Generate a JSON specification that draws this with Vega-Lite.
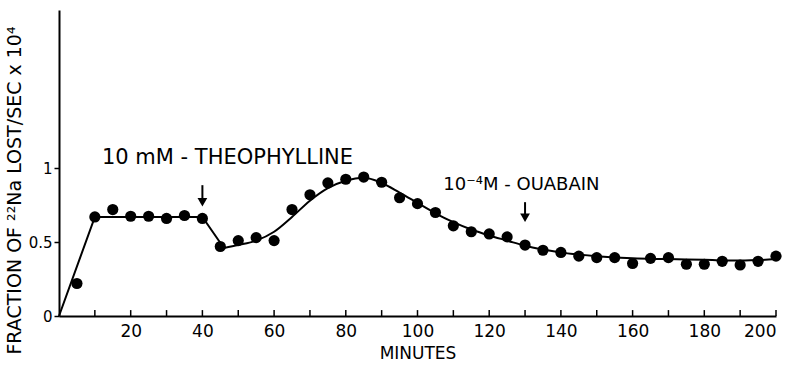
{
  "$schema": "https://vega.github.io/schema/vega-lite/v6.json",
  "width": 717,
  "height": 306,
  "autosize": "none",
  "padding": {"left": 59, "top": 10, "right": 20, "bottom": 58},
  "background": "white",
  "config": {
    "view": {"stroke": null},
    "font": "DejaVu Sans",
    "axis": {"grid": false, "domainColor": "black", "domainWidth": 2, "tickColor": "black", "tickWidth": 1.5, "labelColor": "black", "titleColor": "black", "labelFont": "DejaVu Sans", "titleFont": "DejaVu Sans", "titleFontWeight": "normal"}
  },
  "datasets": {
    "obs": [
      {"min": 5, "val": 0.22}, {"min": 10, "val": 0.67}, {"min": 15, "val": 0.72}, {"min": 20, "val": 0.675},
      {"min": 25, "val": 0.675}, {"min": 30, "val": 0.66}, {"min": 35, "val": 0.68}, {"min": 40, "val": 0.66},
      {"min": 45, "val": 0.47}, {"min": 50, "val": 0.51}, {"min": 55, "val": 0.53}, {"min": 60, "val": 0.51},
      {"min": 65, "val": 0.72}, {"min": 70, "val": 0.82}, {"min": 75, "val": 0.9}, {"min": 80, "val": 0.925},
      {"min": 85, "val": 0.94}, {"min": 90, "val": 0.905}, {"min": 95, "val": 0.8}, {"min": 100, "val": 0.76},
      {"min": 105, "val": 0.7}, {"min": 110, "val": 0.61}, {"min": 115, "val": 0.57}, {"min": 120, "val": 0.555},
      {"min": 125, "val": 0.535}, {"min": 130, "val": 0.48}, {"min": 135, "val": 0.445}, {"min": 140, "val": 0.43},
      {"min": 145, "val": 0.405}, {"min": 150, "val": 0.395}, {"min": 155, "val": 0.395}, {"min": 160, "val": 0.355},
      {"min": 165, "val": 0.39}, {"min": 170, "val": 0.395}, {"min": 175, "val": 0.35}, {"min": 180, "val": 0.35},
      {"min": 185, "val": 0.37}, {"min": 190, "val": 0.345}, {"min": 195, "val": 0.37}, {"min": 200, "val": 0.405}
    ],
    "fitA": [
      {"min": 0, "val": 0}, {"min": 10, "val": 0.67}, {"min": 40, "val": 0.67}, {"min": 46, "val": 0.46}
    ],
    "fitB": [
      {"min": 46, "val": 0.46}, {"min": 50, "val": 0.48}, {"min": 55, "val": 0.51}, {"min": 60, "val": 0.57},
      {"min": 65, "val": 0.67}, {"min": 70, "val": 0.78}, {"min": 75, "val": 0.865}, {"min": 80, "val": 0.915},
      {"min": 85, "val": 0.935}, {"min": 90, "val": 0.9}, {"min": 95, "val": 0.835}, {"min": 100, "val": 0.765},
      {"min": 105, "val": 0.695}, {"min": 110, "val": 0.635}, {"min": 115, "val": 0.585}, {"min": 120, "val": 0.545},
      {"min": 125, "val": 0.51}, {"min": 130, "val": 0.475}, {"min": 135, "val": 0.45}, {"min": 140, "val": 0.43},
      {"min": 150, "val": 0.405}, {"min": 160, "val": 0.39}, {"min": 170, "val": 0.385}, {"min": 180, "val": 0.38},
      {"min": 190, "val": 0.375}, {"min": 200, "val": 0.385}
    ],
    "ticks": [
      {"min": 10}, {"min": 20}, {"min": 30}, {"min": 40}, {"min": 50}, {"min": 60}, {"min": 70}, {"min": 80},
      {"min": 90}, {"min": 100}, {"min": 110}, {"min": 120}, {"min": 130}, {"min": 140}, {"min": 150},
      {"min": 160}, {"min": 170}, {"min": 180}, {"min": 190}, {"min": 200}
    ],
    "note1": [{"min": 47, "val": 1.07, "label": "10 mM - THEOPHYLLINE"}],
    "note2": [{"min": 129, "val": 0.885, "label": "10⁻⁴M - OUABAIN"}],
    "arrows": [
      {"min": 40, "top": 0.885, "tip": 0.745, "head": 0.77},
      {"min": 130, "top": 0.77, "tip": 0.64, "head": 0.665}
    ]
  },
  "layer": [
    {
      "data": {"name": "fitA"},
      "mark": {"type": "line", "color": "black", "strokeWidth": 2},
      "encoding": {
        "x": {"field": "min", "type": "quantitative", "scale": {"domain": [0, 200], "nice": false},
          "axis": {"title": "MINUTES", "values": [20, 40, 60, 80, 100, 120, 140, 160, 180, 200],
            "ticks": false, "labelPadding": 7, "labelFontSize": 17, "titleFontSize": 17, "titlePadding": 6}},
        "y": {"field": "val", "type": "quantitative", "scale": {"domain": [0, 2.07], "nice": false},
          "axis": {"title": "FRACTION OF ²²Na LOST/SEC x 10⁴", "values": [0, 0.5, 1], "labelExpr": "datum.value == 0 ? '0' : datum.value == 1 ? '1' : '0.5'", "tickSize": 5, "labelPadding": 2, "labelFontSize": 15, "titleFontSize": 19, "titlePadding": 4, "titleY": 180}}
      }
    },
    {
      "data": {"name": "ticks"},
      "mark": {"type": "rule", "color": "black", "strokeWidth": 1.5},
      "encoding": {
        "x": {"field": "min", "type": "quantitative"},
        "y": {"datum": 0},
        "y2": {"datum": 0.04}
      }
    },
    {
      "data": {"name": "fitB"},
      "mark": {"type": "line", "color": "black", "strokeWidth": 2, "interpolate": "monotone"},
      "encoding": {
        "x": {"field": "min", "type": "quantitative"},
        "y": {"field": "val", "type": "quantitative"}
      }
    },
    {
      "data": {"name": "obs"},
      "mark": {"type": "point", "filled": true, "color": "black", "opacity": 1, "size": 125},
      "encoding": {
        "x": {"field": "min", "type": "quantitative"},
        "y": {"field": "val", "type": "quantitative"}
      }
    },
    {
      "data": {"name": "note1"},
      "mark": {"type": "text", "color": "black", "fontSize": 21, "align": "center", "baseline": "middle"},
      "encoding": {
        "x": {"field": "min", "type": "quantitative"},
        "y": {"field": "val", "type": "quantitative"},
        "text": {"field": "label"}
      }
    },
    {
      "data": {"name": "note2"},
      "mark": {"type": "text", "color": "black", "fontSize": 18, "align": "center", "baseline": "middle"},
      "encoding": {
        "x": {"field": "min", "type": "quantitative"},
        "y": {"field": "val", "type": "quantitative"},
        "text": {"field": "label"}
      }
    },
    {
      "data": {"name": "arrows"},
      "mark": {"type": "rule", "color": "black", "strokeWidth": 2},
      "encoding": {
        "x": {"field": "min", "type": "quantitative"},
        "y": {"field": "top", "type": "quantitative"},
        "y2": {"field": "head"}
      }
    },
    {
      "data": {"name": "arrows"},
      "mark": {"type": "point", "shape": "triangle-down", "filled": true, "color": "black", "opacity": 1, "size": 95},
      "encoding": {
        "x": {"field": "min", "type": "quantitative"},
        "y": {"field": "head", "type": "quantitative"}
      }
    }
  ]
}
